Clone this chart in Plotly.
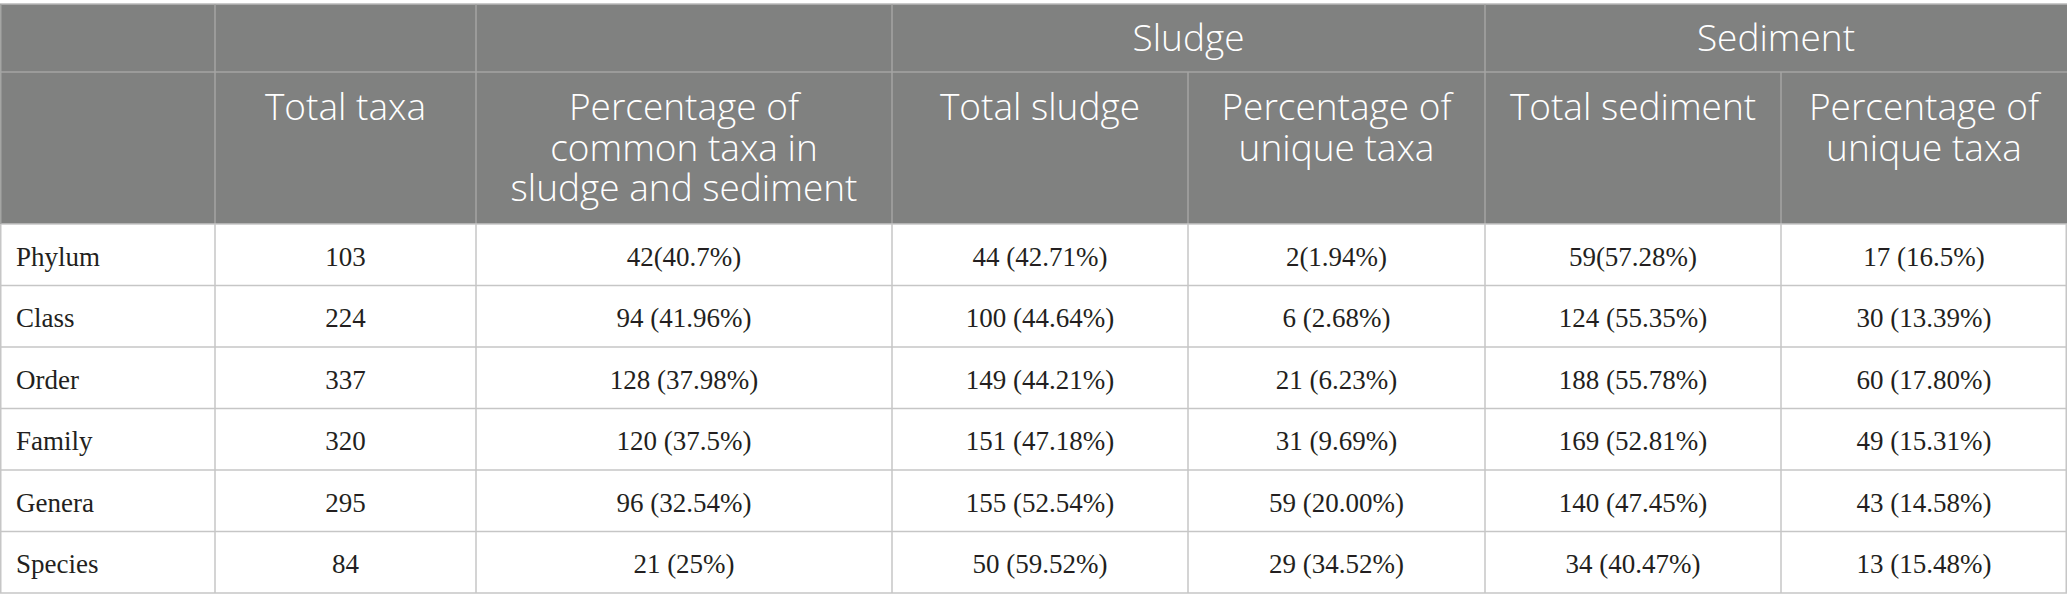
import plotly.graph_objects as go

# table contents
ranks = ["Phylum", "Class", "Order", "Family", "Genera", "Species"]
total_taxa = ["103", "224", "337", "320", "295", "84"]
common_taxa = ["42(40.7%)", "94 (41.96%)", "128 (37.98%)", "120 (37.5%)", "96 (32.54%)", "21 (25%)"]
total_sludge = ["44 (42.71%)", "100 (44.64%)", "149 (44.21%)", "151 (47.18%)", "155 (52.54%)", "50 (59.52%)"]
unique_sludge = ["2(1.94%)", "6 (2.68%)", "21 (6.23%)", "31 (9.69%)", "59 (20.00%)", "29 (34.52%)"]
total_sediment = ["59(57.28%)", "124 (55.35%)", "188 (55.78%)", "169 (52.81%)", "140 (47.45%)", "34 (40.47%)"]
unique_sediment = ["17 (16.5%)", "30 (13.39%)", "60 (17.80%)", "49 (15.31%)", "43 (14.58%)", "13 (15.48%)"]

col_headers = [
    [],
    ["Total taxa"],
    ["Percentage of", "common taxa in", "sludge and sediment"],
    ["Total sludge"],
    ["Percentage of", "unique taxa"],
    ["Total sediment"],
    ["Percentage of", "unique taxa"],
]
groups = [("Sludge", 3, 4), ("Sediment", 5, 6)]

columns = [ranks, total_taxa, common_taxa, total_sludge, unique_sludge, total_sediment, unique_sediment]

# layout in pixels
W, H = 2067, 611
col_w = [215, 261, 416, 296, 297, 296, 286]
top = 4
h1, h2 = 68, 152
row_h = 61.5

edges = [0]
for w in col_w:
    edges.append(edges[-1] + w)
y_h1 = top
y_h2 = top + h1
y_body = top + h1 + h2
row_edges = [y_body + i * row_h for i in range(len(ranks) + 1)]

head_fill = "#808180"
head_line = "#a4a5a3"
grid = "#c6c6c6"

shapes = []
# header background
shapes.append(dict(type="rect", x0=0, x1=W, y0=y_h1, y1=y_body,
                   fillcolor=head_fill, line=dict(width=0), layer="below"))
# header lines
shapes.append(dict(type="line", x0=0, x1=W, y0=y_h1, y1=y_h1, line=dict(color="#b8b8b8", width=1.5)))
shapes.append(dict(type="line", x0=0, x1=W, y0=y_h2, y1=y_h2, line=dict(color=head_line, width=1.5)))
for i, x in enumerate(edges[1:-1], start=1):
    # sub-columns of a group share the top header cell
    y0 = y_h1 if i not in (4, 6) else y_h2
    shapes.append(dict(type="line", x0=x, x1=x, y0=y0, y1=y_body, line=dict(color=head_line, width=1.5)))
# body grid
for y in row_edges:
    shapes.append(dict(type="line", x0=0, x1=W, y0=y, y1=y, line=dict(color=grid, width=1.5)))
for x in edges:
    xx = min(max(x, 0.75), W - 0.75)
    shapes.append(dict(type="line", x0=xx, x1=xx, y0=y_body, y1=row_edges[-1], line=dict(color=grid, width=1.5)))
shapes.append(dict(type="line", x0=0.75, x1=0.75, y0=y_h1, y1=y_body, line=dict(color=head_line, width=1.5)))

fig = go.Figure()

# body text
serif = dict(family="Liberation Serif", size=27, color="#231f20")
for j, col in enumerate(columns):
    ys = [(row_edges[i] + row_edges[i + 1]) / 2 + 4 for i in range(len(col))]
    if j == 0:
        xs = [edges[0] + 16] * len(col)
        pos = "middle right"
    else:
        xs = [(edges[j] + edges[j + 1]) / 2] * len(col)
        pos = "middle center"
    fig.add_trace(go.Scatter(x=xs, y=ys, text=col, mode="text", textposition=pos,
                             textfont=serif, hoverinfo="skip", showlegend=False))

# header text
sans = dict(family="Open Sans", size=37, color="white", weight=300)
hx, hy, ht = [], [], []
for j, lines in enumerate(col_headers):
    for k, line in enumerate(lines):
        hx.append((edges[j] + edges[j + 1]) / 2)
        hy.append(y_h2 + 39 + k * 40.5)
        ht.append(line)
for name, a, b in groups:
    hx.append((edges[a] + edges[b + 1]) / 2)
    hy.append(y_h1 + 38)
    ht.append(name)
fig.add_trace(go.Scatter(x=hx, y=hy, text=ht, mode="text", textposition="middle center",
                         textfont=sans, hoverinfo="skip", showlegend=False))

fig.update_layout(
    width=W, height=H,
    margin=dict(l=0, r=0, t=0, b=0),
    paper_bgcolor="white", plot_bgcolor="white",
    shapes=shapes,
    xaxis=dict(range=[0, W], visible=False, fixedrange=True),
    yaxis=dict(range=[H, 0], visible=False, fixedrange=True),
)

fig.write_html("out.html", config={"displayModeBar": False},
               post_script="document.body.style.margin='0';document.body.style.overflow='hidden';")
